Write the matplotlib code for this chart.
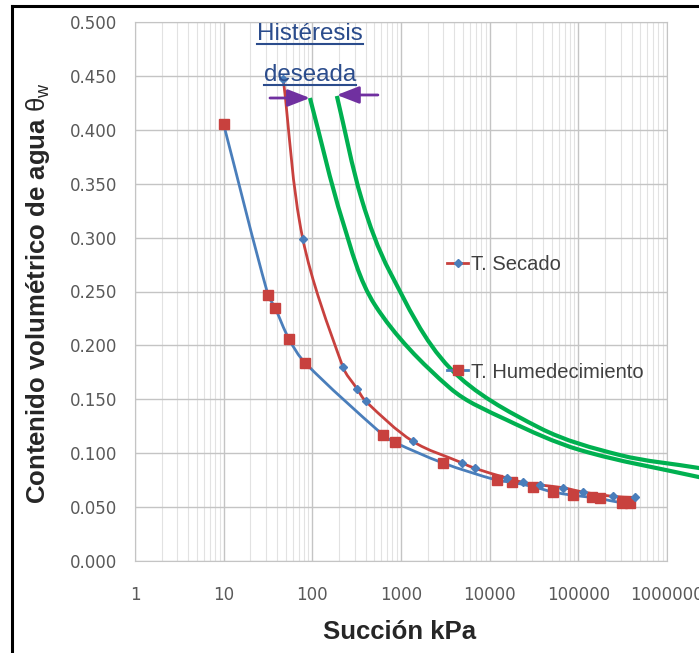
import numpy as np
import matplotlib
matplotlib.use('Agg')
import matplotlib.pyplot as plt
from matplotlib.path import Path
from matplotlib.patches import PathPatch
from matplotlib.lines import Line2D
from matplotlib.ticker import FixedLocator, FixedFormatter, LogLocator, NullFormatter

# ---------------- data ----------------
# Drying branch (red line, blue diamond markers)
secado_kpa = [47, 78, 221, 318, 402, 1360, 4880, 6800, 15600, 23600, 37000,
              67000, 112000, 245000, 434000]
secado_theta = [0.447, 0.299, 0.180, 0.160, 0.148, 0.111, 0.091, 0.086, 0.077,
                0.073, 0.0705, 0.068, 0.064, 0.060, 0.059]

# Wetting branch (blue line, red square markers)
humed_kpa = [10, 31.6, 37.9, 54.5, 82.6, 625, 853, 2960, 12000, 17800, 30700,
             51800, 87000, 142000, 174000, 309000, 380000]
humed_theta = [0.405, 0.247, 0.235, 0.206, 0.184, 0.117, 0.110, 0.091, 0.075,
               0.073, 0.069, 0.064, 0.061, 0.059, 0.058, 0.054, 0.054]

# Hand-drawn "desired hysteresis" green curves
green_inner_kpa = [94, 221, 508, 3560, 15630, 104000, 2280000, 3040000]
green_inner_theta = [0.4295, 0.3145, 0.2375, 0.1605, 0.1308, 0.1030, 0.0779, 0.0761]
green_outer_kpa = [189, 362, 750, 3560, 36800, 294000, 2280000, 3040000]
green_outer_theta = [0.4314, 0.3349, 0.2681, 0.1790, 0.1234, 0.0983, 0.0863, 0.0844]

# Arrows (tail -> tip) and annotation text
arrow_left = [(33.3, 0.4295), (94, 0.4295)]
arrow_right = [(549, 0.4323), (189, 0.4323)]
note_lines = ['Histéresis', 'deseada']
note_pos = [(94, 0.4833), (94, 0.4453)]

x_ticks = [1, 10, 100, 1000, 10000, 100000, 1000000]
x_tick_labels = ['1', '10', '100', '1000', '10000', '100000', '1000000']
y_ticks = [0.0, 0.05, 0.10, 0.15, 0.20, 0.25, 0.30, 0.35, 0.40, 0.45, 0.50]
y_tick_labels = ['0.000', '0.050', '0.100', '0.150', '0.200', '0.250', '0.300',
                 '0.350', '0.400', '0.450', '0.500']

series_names = ['T. Secado', 'T. Humedecimiento']

# ---------------- style ----------------
W, H = 699, 653
BLUE = '#4A7EBB'
RED = '#C8413E'
GREEN = '#00B050'
PURPLE = '#7030A0'
NOTE = '#2B4C8C'

plt.rcParams['mathtext.fontset'] = 'custom'
plt.rcParams['mathtext.rm'] = 'Liberation Sans'
plt.rcParams['mathtext.it'] = 'Liberation Sans:italic'
plt.rcParams['mathtext.bf'] = 'Liberation Sans:bold'

XMIN, XMAX, YMIN, YMAX = 1, 1e6, 0.0, 0.5
AX_L, AX_R, AX_T, AX_B = 135, 667, 22, 561
SX = (AX_R - AX_L) / (np.log10(XMAX) - np.log10(XMIN))   # px per decade
SY = (AX_B - AX_T) / (YMAX - YMIN)                         # px per unit


def smooth_path(xs, ys):
    """Smoothed line through the points as cubic Beziers (computed in screen-like space)."""
    u = np.log10(np.asarray(xs, dtype=float)) * SX
    v = np.asarray(ys, dtype=float) * SY
    pts = np.column_stack([u, v])
    n = len(pts)
    tang = np.zeros_like(pts)
    for i in range(n):
        if i == 0:
            d = pts[1] - pts[0]
        elif i == n - 1:
            d = pts[-1] - pts[-2]
        else:
            d = pts[i + 1] - pts[i - 1]
        tang[i] = d / np.hypot(*d)
    verts = [pts[0]]
    codes = [Path.MOVETO]
    for i in range(n - 1):
        p1, p2 = pts[i], pts[i + 1]
        L = np.hypot(*(p2 - p1)) / 3.0
        verts += [p1 + tang[i] * L, p2 - tang[i + 1] * L, p2]
        codes += [Path.CURVE4] * 3
    verts = np.array(verts)
    xv = 10 ** (verts[:, 0] / SX)
    yv = verts[:, 1] / SY
    return Path(np.column_stack([xv, yv]), codes)


fig = plt.figure(figsize=(W / 100, H / 100), dpi=100)
ax = fig.add_axes([AX_L / W, 1 - AX_B / H, (AX_R - AX_L) / W, (AX_B - AX_T) / H])
ax.set_xscale('log')
ax.set_xlim(XMIN, XMAX)
ax.set_ylim(YMIN, YMAX)

# grid
ax.xaxis.set_major_locator(FixedLocator(x_ticks))
ax.xaxis.set_major_formatter(FixedFormatter(x_tick_labels))
ax.xaxis.set_minor_locator(LogLocator(base=10, subs=np.arange(2, 10)))
ax.xaxis.set_minor_formatter(NullFormatter())
ax.yaxis.set_major_locator(FixedLocator(y_ticks))
ax.yaxis.set_major_formatter(FixedFormatter(y_tick_labels))
ax.set_axisbelow(True)
ax.grid(which='major', color='#C4C4C4', lw=1.0)
ax.grid(which='minor', axis='x', color='#E2E2E2', lw=0.8)
for s in ax.spines.values():
    s.set_color('#C4C4C4')
    s.set_linewidth(0.8)

ax.tick_params(which='both', length=0)
ax.tick_params(axis='y', pad=13, labelsize=12, labelcolor='#595959')
ax.tick_params(axis='x', pad=18, labelsize=12, labelcolor='#595959')
for lab in ax.get_xticklabels() + ax.get_yticklabels():
    lab.set_fontfamily('DejaVu Sans')

# curves
ax.add_patch(PathPatch(smooth_path(humed_kpa, humed_theta), fill=False,
                       edgecolor=BLUE, lw=2.0, zorder=3))
ax.add_patch(PathPatch(smooth_path(secado_kpa, secado_theta), fill=False,
                       edgecolor=RED, lw=2.0, zorder=3))
ax.plot(humed_kpa, humed_theta, ls='none', marker='s', markersize=7,
        markerfacecolor=RED, markeredgecolor=RED, zorder=4)
ax.plot(secado_kpa, secado_theta, ls='none', marker='D', markersize=4.5,
        markerfacecolor=BLUE, markeredgecolor=BLUE, zorder=4)

# green desired-hysteresis curves
for gx, gy in [(green_inner_kpa, green_inner_theta), (green_outer_kpa, green_outer_theta)]:
    ax.add_patch(PathPatch(smooth_path(gx, gy), fill=False, edgecolor=GREEN,
                           lw=3.0, zorder=5, clip_on=False))

# arrows
for (tail, tip) in [arrow_left, arrow_right]:
    ax.annotate('', xy=tip, xytext=tail, annotation_clip=False,
                arrowprops=dict(arrowstyle='-|>,head_length=0.9,head_width=0.35',
                                mutation_scale=15, color=PURPLE, lw=2.0,
                                shrinkA=0, shrinkB=0), zorder=6)

# annotation text
note_texts = []
for txt, (px, py) in zip(note_lines, note_pos):
    t = ax.text(px, py, txt, ha='center', va='baseline', fontsize=17.4,
                fontfamily='Liberation Sans', color=NOTE, clip_on=False, zorder=7)
    note_texts.append(t)

# legends (Excel-style, placed inside plot)
h_sec = Line2D([], [], color=RED, lw=2.0, marker='D', markersize=4.5,
               markerfacecolor=BLUE, markeredgecolor=BLUE)
h_hum = Line2D([], [], color=BLUE, lw=2.0, marker='s', markersize=7,
               markerfacecolor=RED, markeredgecolor=RED)
for h, name, ypx in [(h_sec, series_names[0], 265), (h_hum, series_names[1], 372)]:
    fig.legend([h], [name], loc='center left', bbox_to_anchor=(447 / W, 1 - ypx / H),
               frameon=False, borderpad=0, borderaxespad=0, handlelength=1.05,
               handletextpad=0.15, prop={'family': 'Liberation Sans', 'size': 14.5},
               labelcolor='#404040')

# axis labels
fig.text(400 / W, 1 - 632 / H, 'Succión kPa', ha='center', va='center',
         fontsize=18.5, fontweight='bold', fontfamily='Liberation Sans', color='#262626')
fig.text(38 / W, 1 - 293 / H, 'Contenido volumétrico de agua $\\mathrm{\\theta}_\\mathrm{w}$',
         ha='center', va='center', rotation=90, fontsize=18.5, fontweight='bold',
         fontfamily='Liberation Sans', color='#262626')

# frame border of the original picture
fig.add_artist(Line2D([12 / W, 1.0], [1 - 6 / H, 1 - 6 / H], color='black', lw=2.2,
                      transform=fig.transFigure))
fig.add_artist(Line2D([12 / W, 12 / W], [0.0, 1 - 6 / H], color='black', lw=2.2,
                      transform=fig.transFigure))

# underline the annotation text
fig.canvas.draw()
renderer = fig.canvas.get_renderer()
inv = fig.transFigure.inverted()
for t in note_texts:
    bb = t.get_window_extent(renderer)
    x0, _ = inv.transform((bb.x0, 0))
    x1, _ = inv.transform((bb.x1, 0))
    _, yb = inv.transform((0, bb.y0 + 1))
    fig.add_artist(Line2D([x0, x1], [yb, yb], color=NOTE, lw=1.5,
                          transform=fig.transFigure))

fig.savefig('out.png', dpi=100, facecolor='white')
